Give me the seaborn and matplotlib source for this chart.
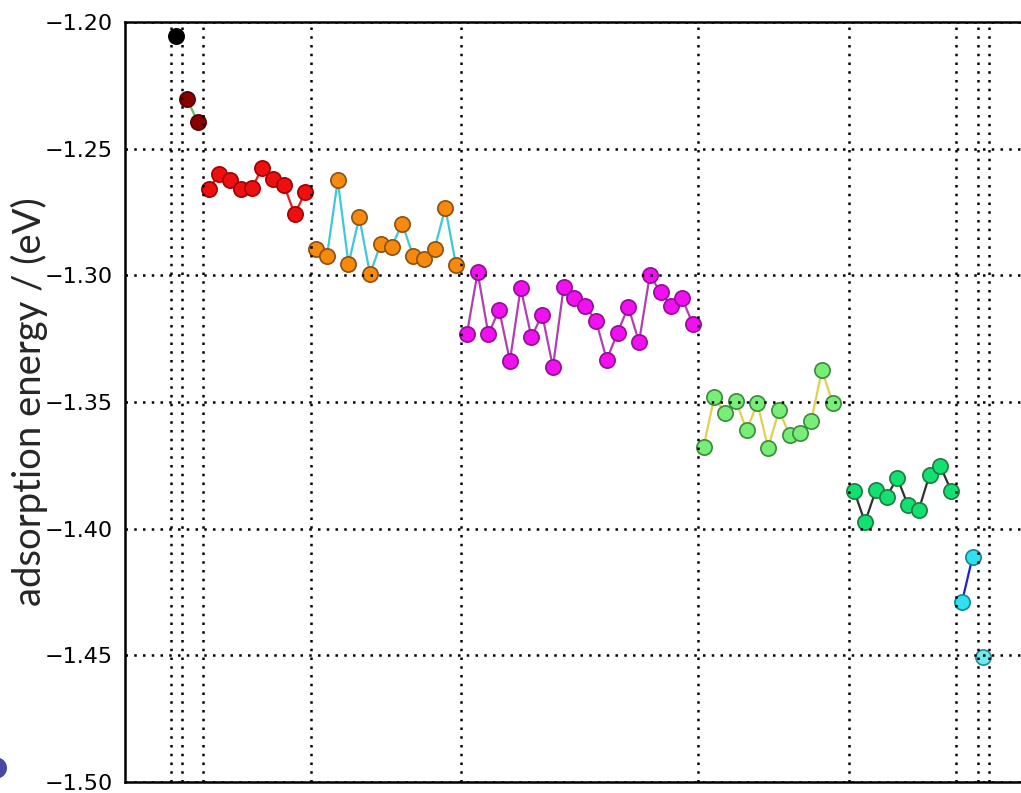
import numpy as np
import pandas as pd
import matplotlib
matplotlib.use("Agg")
import matplotlib.pyplot as plt
from matplotlib.patches import Circle
from matplotlib.transforms import IdentityTransform
import seaborn as sns

# adsorption energies (eV), one list per group
black = [-1.2055]
dark_red = [-1.2304, -1.2396]
red = [-1.2659, -1.2600, -1.2625, -1.2659, -1.2657, -1.2575, -1.2621, -1.2643, -1.2759, -1.2671]
orange = [-1.2896, -1.2924, -1.2625, -1.2955, -1.2771, -1.2995, -1.2875, -1.2887, -1.2796,
          -1.2924, -1.2934, -1.2895, -1.2734, -1.2961]
magenta = [-1.3232, -1.2988, -1.3232, -1.3136, -1.3338, -1.3050, -1.3244, -1.3155, -1.3362,
           -1.3046, -1.3088, -1.3121, -1.3179, -1.3333, -1.3227, -1.3124, -1.3263, -1.3000,
           -1.3066, -1.3121, -1.3091, -1.3192]
yellow_green = [-1.3677, -1.3479, -1.3545, -1.3495, -1.3611, -1.3505, -1.3681, -1.3533, -1.3630,
                -1.3624, -1.3575, -1.3374, -1.3505, np.nan]
green = [-1.3852, -1.3975, -1.3849, -1.3874, -1.3800, -1.3908, -1.3925, -1.3787, -1.3753, -1.3850]
cyan = [-1.4291, -1.4111]
light_cyan = [-1.4506]

groups = [black, dark_red, red, orange, magenta, yellow_green, green, cyan, light_cyan]
face_colors = ['#000000', '#8a0000', '#ee1010', '#f8890f', '#f010f0', '#78ee78', '#12e070', '#30e0f0', '#70e8ee']
edge_colors = ['#000000', '#550000', '#a00000', '#8a5010', '#901090', '#3a8a3a', '#1f7a40', '#108896', '#2a8a96']
line_colors = ['#000000', '#60c060', '#e02020', '#40c8d8', '#b040b0', '#e0d050', '#303030', '#2020d0', '#2020d0']

rows = []
start = 0
for g, vals in enumerate(groups):
    for i, v in enumerate(vals):
        rows.append({'x': start + i, 'energy': v, 'group': g})
    start += len(vals)
df = pd.DataFrame(rows)
bounds = np.concatenate([[0], np.cumsum([len(v) for v in groups])]) - 0.5

sns.set_theme(style="white")
plt.rcParams['font.family'] = ['DejaVu Sans']

fig = plt.figure(figsize=(10.21, 7.93), dpi=100)
ax = fig.add_axes([125 / 1021, 11 / 793, 909.7 / 1021, 760 / 793])

for g in range(len(groups)):
    sub = df[df['group'] == g].dropna()
    sns.lineplot(data=sub, x='x', y='energy', ax=ax, estimator=None, legend=False,
                 color=line_colors[g], linewidth=1.6, marker='o', markersize=11,
                 markerfacecolor=face_colors[g], markeredgecolor=edge_colors[g],
                 markeredgewidth=1.2)

ax.set_xlim(-4.77, 79.77)
ax.set_ylim(-1.50, -1.20)
ax.set_xticks(bounds)
ax.set_xticklabels([])
ax.set_yticks(np.arange(-1.50, -1.199, 0.05))
ax.set_yticklabels(['\u22121.50', '\u22121.45', '\u22121.40', '\u22121.35', '\u22121.30', '\u22121.25', '\u22121.20'])
ax.set_axisbelow(False)
ax.grid(True, color='black', linestyle=(0, (1, 2.5)), linewidth=1.8)
ax.tick_params(direction='in', length=6, width=1.2, colors='black', labelsize=16, pad=9)
for s in ax.spines.values():
    s.set_color('black')
    s.set_linewidth(1.8)
ax.set_xlabel('')
ax.set_ylabel('adsorption energy / (eV)', fontsize=27.5, family=['Lato', 'DejaVu Sans'])
ax.yaxis.set_label_coords(-0.085, 0.5)

# partial blue dot at the lower-left corner of the original slide
fig.patches.append(Circle((-3.6, 793 - 768), 10.6, transform=IdentityTransform(),
                          facecolor='#4747a5', edgecolor='none'))

fig.savefig('out.png', dpi=100)
